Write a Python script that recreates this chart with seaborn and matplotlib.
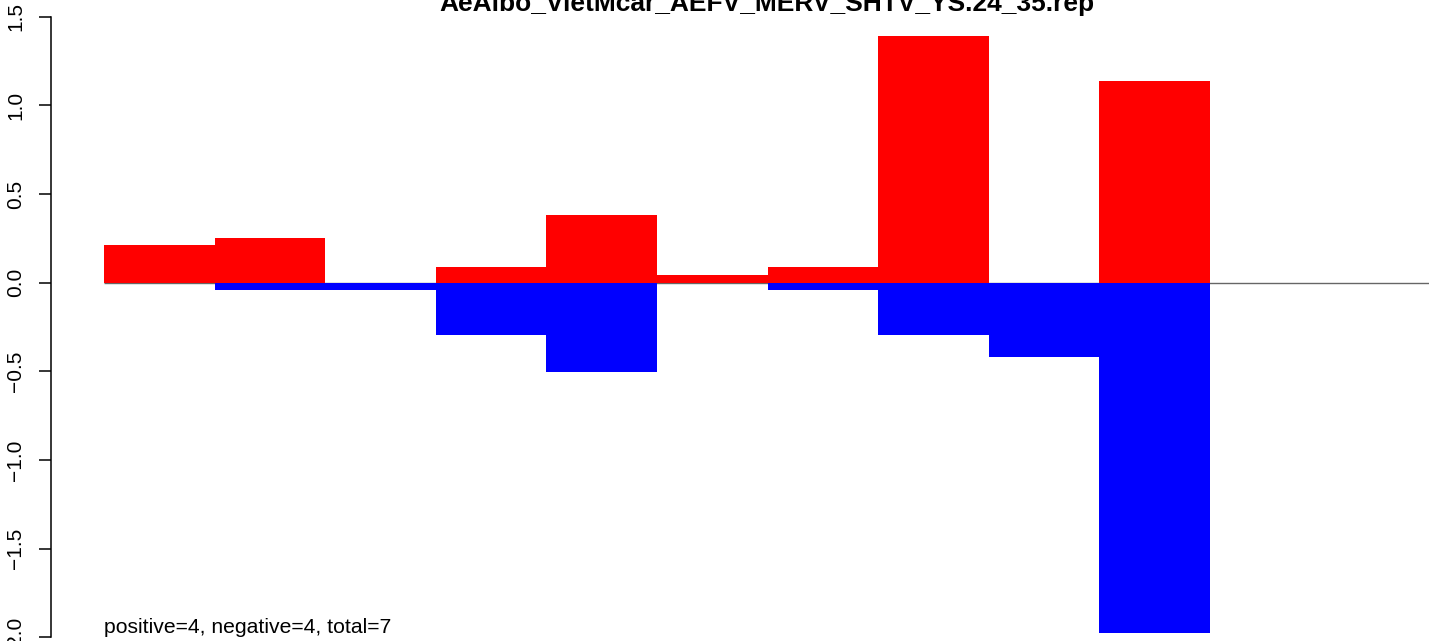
import numpy as np
import matplotlib
matplotlib.use("Agg")
import matplotlib.pyplot as plt
import seaborn as sns

# positions 24..35 of the YS repeat, summed positive / negative scores
positions = [str(p) for p in range(24, 36)]
pos_vals = [0.213, 0.252, 0.0, 0.089, 0.382, 0.043, 0.089, 1.391, 0.0, 1.138, 0.0, 0.0]
neg_vals = [0.0, -0.040, -0.040, -0.293, -0.502, 0.0, -0.040, -0.293, -0.417, -1.974, 0.0, 0.0]
title = "AeAlbo_VietMcar_AEFV_MERV_SHTV_YS.24_35.rep"
note = "positive=4, negative=4, total=7"

sns.set_style("white", {"text.color": "black", "axes.labelcolor": "black",
                        "ytick.color": "black", "axes.edgecolor": "black"})
plt.rcParams["font.family"] = ["Liberation Sans", "DejaVu Sans"]

W, H = 1429, 641
fig = plt.figure(figsize=(W / 100, H / 100), dpi=100)

# plot region is a crop of a larger R device: axes run past the figure edges
slot = 110.6
x0_px, zero_px, unit_px = 104.0, 282.7, 177.3
xlo, xhi = -0.48, 12.48
ylo, yhi = -2.14, 1.64
left = (x0_px + xlo * slot) / W
width = (xhi - xlo) * slot / W
bottom = (H - (zero_px - ylo * unit_px)) / H
height = (yhi - ylo) * unit_px / H
ax = fig.add_axes([left, bottom, width, height])

n = len(positions)
ax.hlines(0, -0.5, n - 0.5, color="#666666", lw=1, zorder=0)
sns.barplot(x=positions, y=pos_vals, color="red", width=1, linewidth=0,
            saturation=1, errorbar=None, ax=ax, zorder=2)
sns.barplot(x=positions, y=neg_vals, color="blue", width=1, linewidth=0,
            saturation=1, errorbar=None, ax=ax, zorder=2)

ax.set_xlim(xlo - 0.5, xhi - 0.5)
ax.set_ylim(ylo, yhi)
ax.set_xticks([])
ax.set_xlabel("")
ax.set_ylabel("")
ax.set_yticks([-2, -1.5, -1, -0.5, 0, 0.5, 1, 1.5])
ax.set_yticklabels(["\u22122.0", "\u22121.5", "\u22121.0", "\u22120.5", "0.0", "0.5", "1.0", "1.5"],
                   rotation=90, va="center", fontsize=15)
ax.tick_params(axis="y", left=True, length=8.6, width=1.1, pad=10, colors="black")
for s in ["top", "right", "bottom"]:
    ax.spines[s].set_visible(False)
ax.spines["left"].set_bounds(-2, 1.5)
ax.spines["left"].set_linewidth(1.1)
ax.spines["left"].set_color("black")
ax.patch.set_alpha(0)

ax.text(-0.5, -1.976, note, fontsize=15.2, va="baseline", ha="left", color="black")
fig.text(767 / W, 1 - 10.5 / H, title, fontsize=19, fontweight="bold",
         ha="center", va="baseline", color="black")

fig.savefig("out.png", dpi=100)
